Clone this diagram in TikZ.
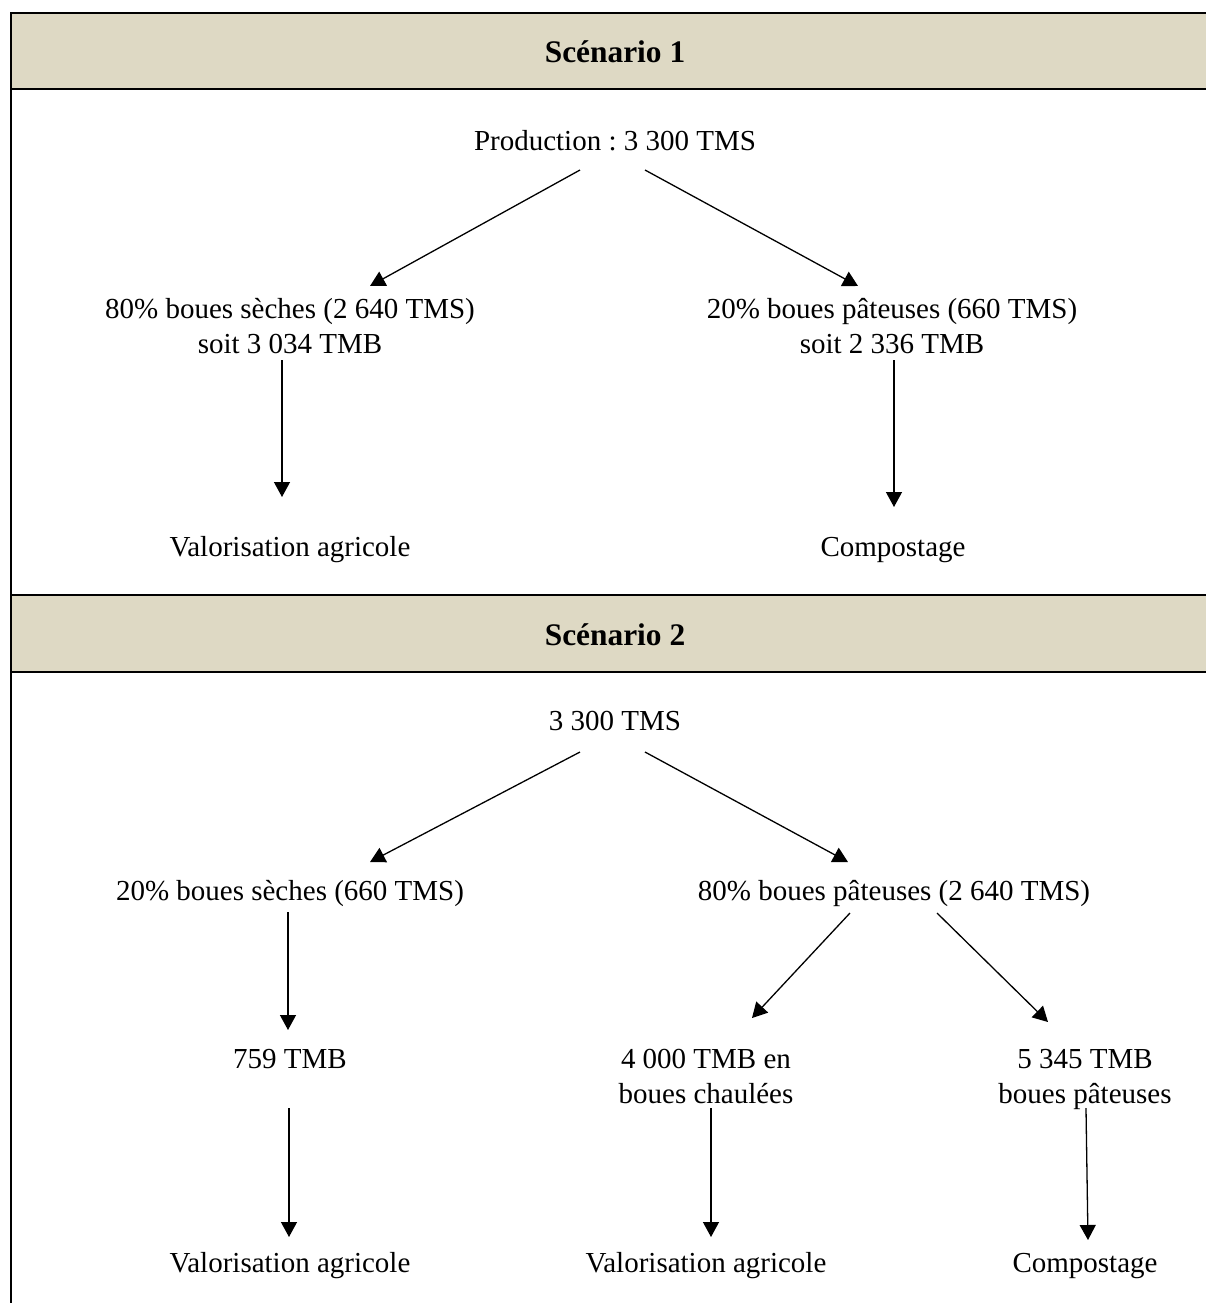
\documentclass[tikz,border=0pt]{standalone}
\usepackage{fontspec}
\setmainfont{Liberation Serif}
\usetikzlibrary{arrows.meta,calc}
\frenchspacing
\definecolor{headfill}{RGB}{222,217,196}
\tikzset{
  lbl/.style={font=\fontsize{14.5}{17.5}\selectfont, inner sep=0pt, anchor=base, align=center},
  headlbl/.style={font=\fontsize{15.7}{17}\selectfont\bfseries, inner sep=0pt, anchor=base},
  band/.style={draw=black, line width=1pt, fill=headfill},
  frame/.style={draw=black, line width=1pt},
  arr/.style={draw=black, line width=0.65pt, -{Triangle[width=8pt,length=7.5pt]}}
}
\begin{document}
\begin{tikzpicture}[x=0.5pt,y=-0.5pt]
\useasboundingbox (0,0) rectangle (1206,1303);
\clip (0,0) rectangle (1206,1303);

% frame and header bands
\path[band] (11,13) rectangle (1215,89);
\path[band] (11,595) rectangle (1215,672);
\path[frame] (11,89) -- (11,595);
\path[frame] (11,672) -- (11,1310);

% ---- Scenario 1 ----
\node[headlbl] (h1) at (615,62) {Scénario 1};
\node[lbl] (prodA) at (615,150) {Production : 3 300 TMS};
\node[lbl] (secA) at (290,353) {80\% boues sèches (2 640 TMS)\\soit 3 034 TMB};
\node[lbl] (patA) at (892,353) {20\% boues pâteuses (660 TMS)\\soit 2 336 TMB};
\node[lbl] (valA) at (290,556) {Valorisation agricole};
\node[lbl] (compA) at (893,556) {Compostage};

\draw[arr] ($(prodA.base)+(-35,20)$) -- ($(secA.base)+(80,-67)$);
\draw[arr] ($(prodA.base)+(30,20)$) -- ($(patA.base)+(-34,-67)$);
\draw[arr] ($(valA.base)+(-8,-196)$) -- ($(valA.base)+(-8,-59)$);
\draw[arr] ($(compA.base)+(1,-196)$) -- ($(compA.base)+(1,-49)$);

% ---- Scenario 2 ----
\node[headlbl] (h2) at (615,645) {Scénario 2};
\node[lbl] (prodB) at (615,730) {3 300 TMS};
\node[lbl] (secB) at (290,900) {20\% boues sèches (660 TMS)};
\node[lbl] (patB) at (894,900) {80\% boues pâteuses (2 640 TMS)};
\node[lbl] (tmbB) at (290,1068) {759 TMB};
\node[lbl] (chauB) at (706,1103) {4 000 TMB en\\boues chaulées};
\node[lbl] (pateB) at (1085,1103) {5 345 TMB\\boues pâteuses};
\node[lbl] (valB) at (290,1272) {Valorisation agricole};
\node[lbl] (valC) at (706,1272) {Valorisation agricole};
\node[lbl] (compB) at (1085,1272) {Compostage};

\draw[arr] ($(prodB.base)+(-35,22)$) -- ($(secB.base)+(80,-38)$);
\draw[arr] ($(prodB.base)+(30,22)$) -- ($(patB.base)+(-46,-38)$);
\draw[arr] ($(secB.base)+(-2,12)$) -- ($(tmbB.base)+(-2,-38)$);
\draw[arr] ($(patB.base)+(-44,13)$) -- ($(chauB.base)+(46,-85)$);
\draw[arr] ($(patB.base)+(43,13)$) -- ($(pateB.base)+(-37,-81)$);
\draw[arr] ($(valB.base)+(-1,-164)$) -- ($(valB.base)+(-1,-35)$);
\draw[arr] ($(valC.base)+(5,-164)$) -- ($(valC.base)+(5,-35)$);
\draw[arr] ($(compB.base)+(1,-164)$) -- ($(compB.base)+(3,-32)$);
\end{tikzpicture}
\end{document}
